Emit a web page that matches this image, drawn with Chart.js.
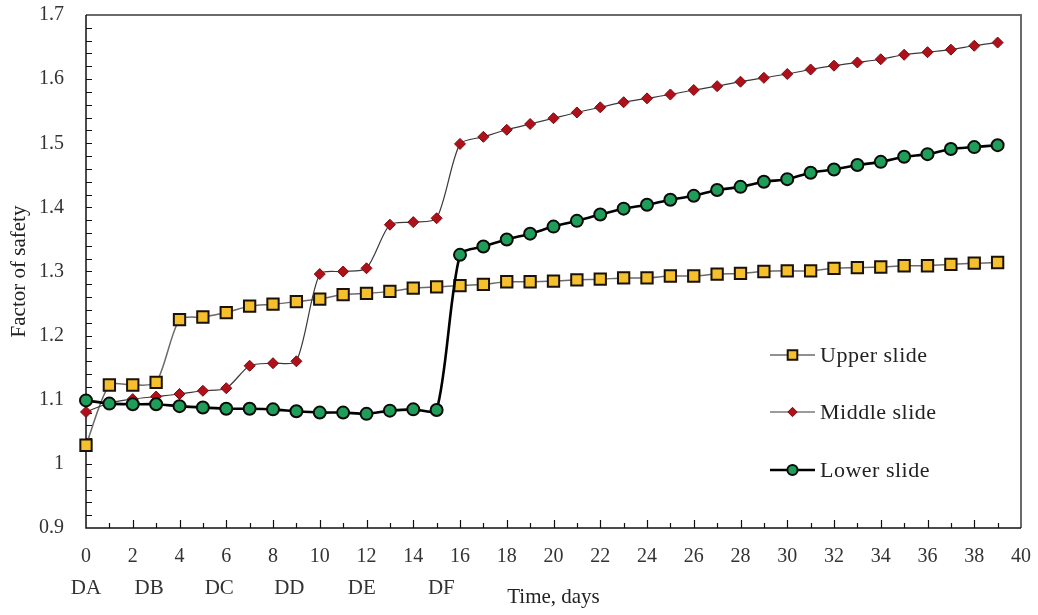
<!DOCTYPE html>
<html>
<head>
<meta charset="utf-8">
<title>Factor of safety</title>
<script src="https://cdn.jsdelivr.net/npm/chart.js@4.4.1/dist/chart.umd.min.js"></script>
<style>
    html, body { margin: 0; padding: 0; background: #ffffff; }
    #wrap { width: 1038px; height: 615px; }
</style>
</head>
<body>
<div id="wrap"><canvas id="fosChart" width="1038" height="615"></canvas></div>
<script>
// ===============================
// DATA
// ===============================

const days = [
    0, 1, 2, 3, 4, 5, 6, 7, 8, 9,
    10, 11, 12, 13, 14, 15, 16, 17, 18, 19,
    20, 21, 22, 23, 24, 25, 26, 27, 28, 29,
    30, 31, 32, 33, 34, 35, 36, 37, 38, 39
];

const upperSlide = [
    1.029, 1.123, 1.123, 1.127, 1.225, 1.229, 1.236, 1.246, 1.249, 1.253,
    1.257, 1.264, 1.266, 1.269, 1.274, 1.276, 1.278, 1.280, 1.284, 1.284,
    1.285, 1.287, 1.288, 1.290, 1.290, 1.293, 1.293, 1.296, 1.297, 1.300,
    1.301, 1.301, 1.305, 1.306, 1.307, 1.309, 1.309, 1.311, 1.313, 1.314
];

const middleSlide = [
    1.081, 1.095, 1.101, 1.105, 1.109, 1.114, 1.118, 1.153, 1.157, 1.160,
    1.296, 1.300, 1.305, 1.373, 1.377, 1.383, 1.499, 1.510, 1.521, 1.530,
    1.539, 1.548, 1.556, 1.564, 1.570, 1.576, 1.583, 1.589, 1.596, 1.602,
    1.608, 1.615, 1.621, 1.626, 1.631, 1.638, 1.642, 1.646, 1.652, 1.657
];

const lowerSlide = [
    1.099, 1.094, 1.093, 1.093, 1.090, 1.088, 1.086, 1.086, 1.085, 1.082,
    1.080, 1.080, 1.078, 1.083, 1.085, 1.084, 1.326, 1.339, 1.350, 1.359,
    1.370, 1.379, 1.389, 1.398, 1.404, 1.412, 1.418, 1.427, 1.432, 1.440,
    1.444, 1.454, 1.459, 1.466, 1.471, 1.479, 1.483, 1.491, 1.494, 1.497
];

const seriesNames = ["Upper slide", "Middle slide", "Lower slide"];

// excavation stages written under the day ticks
const stageNames = ["DA", "DB", "DC", "DD", "DE", "DF"];
const stageDays = [0, 2.7, 5.7, 8.7, 11.8, 15.2];

const yTicks = [0.9, 1, 1.1, 1.2, 1.3, 1.4, 1.5, 1.6, 1.7];
const xTicks = [0, 2, 4, 6, 8, 10, 12, 14, 16, 18, 20, 22, 24, 26, 28, 30, 32, 34, 36, 38, 40];

// ===============================
// HELPERS
// ===============================

function toPoints(values) {
    return days.map((d, i) => ({ x: d, y: values[i] }));
}

function drawMarker(ctx, ds, x, y, scale) {
    const r = ds.pointRadius * scale;
    ctx.save();
    ctx.fillStyle = ds.pointBackgroundColor;
    ctx.strokeStyle = ds.pointBorderColor;
    ctx.lineWidth = ds.pointBorderWidth;
    ctx.beginPath();
    if (ds.pointStyle === "rect") {
        const s = Math.SQRT1_2 * r;
        ctx.rect(x - s, y - s, 2 * s, 2 * s);
    } else if (ds.pointStyle === "rectRot") {
        ctx.moveTo(x - r, y);
        ctx.lineTo(x, y - r);
        ctx.lineTo(x + r, y);
        ctx.lineTo(x, y + r);
        ctx.closePath();
    } else {
        ctx.arc(x, y, r, 0, Math.PI * 2);
    }
    ctx.fill();
    if (ds.pointBorderWidth > 0) ctx.stroke();
    ctx.restore();
}

// ===============================
// PLUGINS
// ===============================

const frameAndTicks = {
    id: "frameAndTicks",
    beforeDatasetsDraw(chart) {
        const { ctx, chartArea: a, scales: { x, y } } = chart;
        ctx.save();

        // top / right frame
        ctx.strokeStyle = "#6a6a6a";
        ctx.lineWidth = 2;
        ctx.beginPath();
        ctx.moveTo(a.left, a.top);
        ctx.lineTo(a.right, a.top);
        ctx.lineTo(a.right, a.bottom);
        ctx.stroke();

        // axes
        ctx.strokeStyle = "#111111";
        ctx.lineWidth = 1.5;
        ctx.beginPath();
        ctx.moveTo(a.left, a.top);
        ctx.lineTo(a.left, a.bottom);
        ctx.lineTo(a.right, a.bottom);
        ctx.stroke();

        // inside ticks
        ctx.lineWidth = 1.2;
        ctx.beginPath();
        for (let i = 1; i < 40; i++) {
            const py = Math.round(y.getPixelForValue(0.9 + i * 0.02)) + 0.5;
            ctx.moveTo(a.left, py);
            ctx.lineTo(a.left + 6, py);
        }
        for (let d = 1; d < 40; d++) {
            const px = Math.round(x.getPixelForValue(d)) + 0.5;
            const len = d % 2 === 0 ? 8 : 5;
            ctx.moveTo(px, a.bottom);
            ctx.lineTo(px, a.bottom - len);
        }
        ctx.stroke();
        ctx.restore();
    },
    afterDraw(chart) {
        const { ctx, chartArea: a, scales: { x } } = chart;
        ctx.save();

        // stage labels
        ctx.font = "21px 'Liberation Serif'";
        ctx.fillStyle = "#333333";
        ctx.textAlign = "center";
        ctx.textBaseline = "middle";
        stageNames.forEach((name, i) => {
            ctx.fillText(name, x.getPixelForValue(stageDays[i]), 588);
        });

        // legend inside the plot
        const lx0 = a.left + 684;
        const lx1 = lx0 + 45;
        const rows = [355, 412, 470];
        ctx.textAlign = "left";
        ctx.font = "22px 'Liberation Serif'";
        ctx.letterSpacing = "0.5px";
        chart.data.datasets.forEach((ds, i) => {
            const ly = rows[i];
            ctx.strokeStyle = ds.borderColor;
            ctx.lineWidth = ds.borderWidth;
            ctx.beginPath();
            ctx.moveTo(lx0, ly);
            ctx.lineTo(lx1, ly);
            ctx.stroke();
            drawMarker(ctx, ds, (lx0 + lx1) / 2, ly, 0.85);
            ctx.fillStyle = "#222222";
            ctx.fillText(seriesNames[i], lx1 + 5, ly + 1);
        });
        ctx.restore();
    }
};

// ===============================
// CHART
// ===============================

const tickFont = { family: "'Liberation Serif'", size: 20 };
const titleFont = { family: "'Liberation Serif'", size: 21 };

new Chart(document.getElementById("fosChart"), {

    type: "line",

    data: {
        datasets: [
            {
                label: seriesNames[0],
                data: toPoints(upperSlide),
                borderColor: "#6b6b6b",
                borderWidth: 1.5,
                pointStyle: "rect",
                pointRadius: 8,
                pointBackgroundColor: "#f5c02c",
                pointBorderColor: "#1a1208",
                pointBorderWidth: 2,
                tension: 0.25,
                clip: false,
                order: 3
            },
            {
                label: seriesNames[1],
                data: toPoints(middleSlide),
                borderColor: "#3a3a3a",
                borderWidth: 1.2,
                pointStyle: "rectRot",
                pointRadius: 5.5,
                pointBackgroundColor: "#b0101a",
                pointBorderColor: "#7a0a10",
                pointBorderWidth: 1,
                tension: 0.25,
                clip: false,
                order: 2
            },
            {
                label: seriesNames[2],
                data: toPoints(lowerSlide),
                borderColor: "#000000",
                borderWidth: 2.6,
                pointStyle: "circle",
                pointRadius: 6,
                pointBackgroundColor: "#1f9e5a",
                pointBorderColor: "#0a0a0a",
                pointBorderWidth: 2,
                tension: 0.25,
                clip: false,
                order: 1
            }
        ]
    },

    options: {
        responsive: false,
        animation: false,
        devicePixelRatio: 1,
        layout: {
            padding: { top: 15, right: 17, left: 0, bottom: 0 }
        },
        plugins: {
            legend: { display: false },
            tooltip: { enabled: false }
        },
        scales: {
            x: {
                type: "linear",
                min: 0,
                max: 40,
                afterFit: scale => {
                    scale.height = 87;
                    scale.paddingLeft = 0;
                    scale.paddingRight = 0;
                },
                afterBuildTicks: scale => {
                    scale.ticks = xTicks.map(v => ({ value: v }));
                },
                grid: { display: false, drawTicks: false },
                border: { display: false },
                ticks: {
                    font: tickFont,
                    color: "#333333",
                    padding: 17,
                    maxRotation: 0,
                    autoSkip: false
                },
                title: {
                    display: true,
                    text: "Time, days",
                    font: titleFont,
                    color: "#222222",
                    padding: { top: 0, bottom: 5 }
                }
            },
            y: {
                type: "linear",
                min: 0.9,
                max: 1.7,
                afterFit: scale => {
                    scale.width = 86;
                    scale.paddingTop = 0;
                    scale.paddingBottom = 0;
                },
                afterBuildTicks: scale => {
                    scale.ticks = yTicks.map(v => ({ value: v }));
                },
                grid: { display: false, drawTicks: false },
                border: { display: false },
                ticks: {
                    font: tickFont,
                    color: "#333333",
                    padding: 22,
                    callback: v => String(+v.toFixed(1))
                },
                title: {
                    display: true,
                    text: "Factor of safety",
                    font: titleFont,
                    color: "#222222",
                    padding: { top: 7, bottom: 0 }
                }
            }
        }
    },

    plugins: [frameAndTicks]
});
</script>
</body>
</html>
